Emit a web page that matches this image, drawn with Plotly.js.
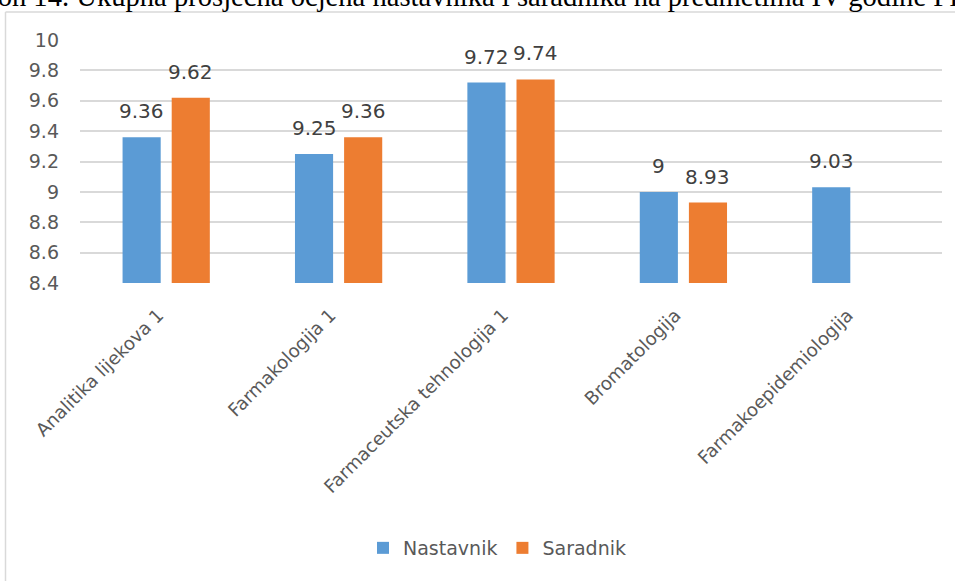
<!DOCTYPE html>
<html><head><meta charset="utf-8">
<script src="https://cdn.plot.ly/plotly-3.0.1.min.js"></script>
<style>html,body{margin:0;padding:0;background:#fff;}#chart{width:955px;height:581px;}</style>
</head><body><div id="chart"></div>
<script>
var categories = ["Analitika lijekova 1", "Farmakologija 1", "Farmaceutska tehnologija 1", "Bromatologija", "Farmakoepidemiologija"];
var nastavnik = [9.36, 9.25, 9.72, 9, 9.03];
var saradnik = [9.62, 9.36, 9.74, 8.93, null];
var yTicks = [8.4, 8.6, 8.8, 9, 9.2, 9.4, 9.6, 9.8, 10];
var yTickText = ["8.4", "8.6", "8.8", "9", "9.2", "9.4", "9.6", "9.8", "10"];
var titleText = "Grafikon 14. Ukupna prosječna ocjena nastavnika i saradnika na predmetima IV godine FF";

var W = 955, H = 581, L = 80, R = 13, T = 40, B = 298;
var pw = W - L - R, ph = H - T - B;
function px2x(p){ return (p - L) / pw; }
function py2y(p){ return (H - B - p) / ph; }

var blue = "#5B9BD5", orange = "#ED7D31";
var traces = [
  {type: "bar", name: "Nastavnik", x: categories, y: nastavnik, marker: {color: blue}},
  {type: "bar", name: "Saradnik", x: categories, y: saradnik, marker: {color: orange}}
];

var annotations = [];
function addLabels(vals, side){
  vals.forEach(function(v, i){
    if (v === null) return;
    annotations.push({
      xref: "x", yref: "y", x: i, y: v, text: String(v), showarrow: false,
      xshift: side * 24.5, yshift: 12, yanchor: "bottom",
      font: {family: "DejaVu Sans", size: 20, color: "#404040"}
    });
  });
}
addLabels(nastavnik, -1);
addLabels(saradnik, 1);
annotations.push({
  xref: "paper", yref: "paper", x: px2x(-79), y: py2y(14), xanchor: "left", yanchor: "bottom",
  text: titleText, showarrow: false,
  font: {family: "Liberation Serif", size: 28.6, color: "#000"}
});

var layout = {
  width: W, height: H,
  margin: {l: L, r: R, t: T, b: B},
  paper_bgcolor: "#fff", plot_bgcolor: "#fff",
  barmode: "group", bargap: 0.43, bargroupgap: 0.224,
  showlegend: true,
  legend: {orientation: "h", x: px2x(497), y: py2y(548), xanchor: "center", yanchor: "middle",
    font: {family: "DejaVu Sans", size: 19, color: "#595959"}},
  xaxis: {type: "category", tickangle: -45, showgrid: false, showline: false, ticks: "",
    ticklabelshift: -8, ticklabelstandoff: 17,
    tickfont: {family: "DejaVu Sans", size: 18.2, color: "#595959"}},
  yaxis: {range: [8.4, 10], tickvals: yTicks, ticktext: yTickText, showgrid: true, gridcolor: "#d9d9d9", gridwidth: 1.5,
    zeroline: false, showline: false, ticks: "", ticklabelstandoff: 20,
    tickfont: {family: "DejaVu Sans", size: 19, color: "#595959"}},
  annotations: annotations,
  shapes: [
    {type: "line", xref: "paper", yref: "paper", x0: px2x(5.5), x1: px2x(5.5), y0: py2y(12), y1: py2y(600), line: {color: "#d9d9d9", width: 1.5}},
    {type: "line", xref: "paper", yref: "paper", x0: px2x(5.5), x1: px2x(970), y0: py2y(12), y1: py2y(12), line: {color: "#d9d9d9", width: 1.5}}
  ]
};
Plotly.newPlot("chart", traces, layout, {displayModeBar: false});
</script></body></html>
